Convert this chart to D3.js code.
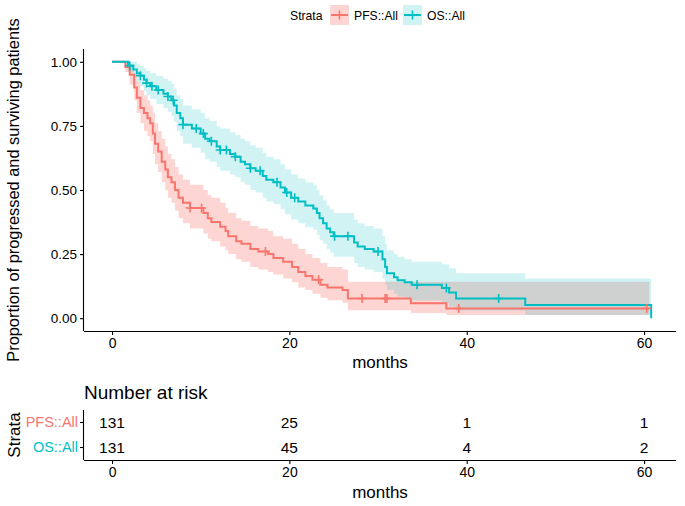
<!DOCTYPE html>
<html><head><meta charset="utf-8">
<script src="https://cdn.jsdelivr.net/npm/d3@7"></script>
<style>body{margin:0;background:#fff}svg{display:block;font-family:"Liberation Sans",Arial,sans-serif}</style>
</head><body><svg id="c" width="685" height="506"></svg>
<script>
// ---- data ----
const strata = ["PFS::All", "OS::All"];
const colors = ["#F8766D", "#00BFC4"];
// PFS step curve
const pfsTime = [0,1.5,2.0,2.5,2.8,3.2,3.6,4.0,4.3,4.6,4.85,5.2,5.6,6.0,6.3,6.7,7.1,7.5,8.0,8.8,10.3,10.8,11.2,12.2,12.8,13.1,14.0,14.6,15.6,16.5,17.6,18.2,19.3,20.3,21.0,21.8,22.6,23.5,24.3,26.0,26.6,33.7,37.7];
const pfsSurv = [1.0,0.98,0.95,0.90,0.86,0.82,0.80,0.78,0.76,0.72,0.68,0.65,0.61,0.58,0.55,0.53,0.50,0.47,0.45,0.43,0.41,0.39,0.375,0.357,0.34,0.32,0.30,0.29,0.27,0.26,0.25,0.235,0.22,0.20,0.18,0.165,0.15,0.13,0.12,0.11,0.077,0.058,0.038];
const pfsLower = [1.0,0.96,0.91,0.85,0.80,0.76,0.73,0.71,0.69,0.64,0.60,0.57,0.53,0.50,0.47,0.45,0.42,0.39,0.37,0.35,0.33,0.31,0.30,0.28,0.265,0.25,0.23,0.22,0.20,0.19,0.18,0.17,0.155,0.14,0.12,0.11,0.095,0.08,0.07,0.06,0.031,0.02,0.012];
const pfsUpper = [1.0,1.0,0.99,0.95,0.92,0.89,0.87,0.85,0.83,0.80,0.76,0.73,0.70,0.67,0.64,0.62,0.59,0.56,0.54,0.52,0.50,0.48,0.47,0.45,0.43,0.41,0.39,0.38,0.36,0.35,0.34,0.32,0.31,0.29,0.27,0.25,0.235,0.215,0.20,0.19,0.142,0.142,0.142];
const pfsEnd = 60.6;
const pfsCensor = [8.8,10.1,17.3,23.3,28.2,30.8,31.0,39.1,60.3];
// OS step curve
const osTime = [0,1.8,2.4,2.8,3.2,3.6,3.9,4.3,5.0,5.8,6.3,6.7,7.0,7.3,7.7,8.0,9.0,10.0,10.5,11.0,11.8,12.2,13.3,13.9,14.5,15.0,15.6,16.2,17.0,17.4,18.2,19.0,19.5,20.2,21.0,21.8,22.7,23.1,23.4,23.8,24.2,24.6,25.0,27.3,27.7,28.5,29.5,30.5,30.8,31.0,31.8,32.2,33.0,33.8,37.2,38.0,38.8,46.6,60.8];
const osSurv = [1.0,0.985,0.97,0.955,0.946,0.93,0.917,0.905,0.89,0.875,0.865,0.85,0.83,0.80,0.78,0.755,0.74,0.72,0.70,0.69,0.67,0.656,0.64,0.63,0.61,0.60,0.585,0.575,0.555,0.54,0.53,0.51,0.49,0.47,0.455,0.44,0.428,0.41,0.39,0.37,0.35,0.335,0.32,0.295,0.28,0.27,0.26,0.23,0.20,0.175,0.16,0.148,0.14,0.13,0.118,0.10,0.077,0.051,0.0];
const osLower = [1.0,0.96,0.94,0.92,0.905,0.885,0.87,0.855,0.835,0.82,0.805,0.79,0.765,0.73,0.71,0.68,0.665,0.645,0.62,0.61,0.59,0.575,0.56,0.55,0.53,0.52,0.50,0.49,0.47,0.455,0.445,0.425,0.405,0.385,0.37,0.355,0.345,0.325,0.305,0.29,0.27,0.255,0.24,0.215,0.20,0.19,0.18,0.155,0.13,0.11,0.095,0.085,0.08,0.07,0.06,0.045,0.03,0.012,0.0];
const osUpper = [1.0,1.0,1.0,0.99,0.985,0.975,0.965,0.955,0.945,0.935,0.925,0.915,0.895,0.87,0.855,0.83,0.815,0.80,0.78,0.77,0.75,0.74,0.725,0.715,0.70,0.69,0.675,0.665,0.645,0.63,0.62,0.60,0.58,0.56,0.545,0.53,0.52,0.50,0.48,0.46,0.44,0.425,0.41,0.385,0.37,0.36,0.35,0.32,0.29,0.265,0.25,0.24,0.23,0.22,0.21,0.195,0.175,0.155,0.0];
const osEnd = 60.8;
const osCensor = [2.0,3.2,3.9,4.5,5.2,6.3,6.9,8.0,9.5,10.3,11.2,12.2,12.9,13.9,15.6,16.7,18.6,19.7,20.6,25.1,26.6,30.0,34.4,37.7,43.6];
// risk table
const riskTimes = [0, 20, 40, 60];
const riskPFS = [131, 25, 1, 1];
const riskOS = [131, 45, 4, 2];
const xTicks = [0, 20, 40, 60];
const yTicks = [0, 0.25, 0.5, 0.75, 1];

// ---- drawing ----
const svg = d3.select("#c");
const x = d3.scaleLinear().domain([-3.16, 63.6]).range([84, 676]);
const y = d3.scaleLinear().domain([-0.05, 1.05]).range([331, 49]);
const F = '"Liberation Sans",Arial,sans-serif';
const bandAlpha = [0.3, 0.18];

function series(time, surv, lo, hi, end) {
  const pts = time.map((t, i) => ({t, s: surv[i], lo: lo[i], hi: hi[i]}));
  pts.push({t: end, s: surv[surv.length - 1], lo: lo[lo.length - 1], hi: hi[hi.length - 1]});
  return pts;
}
const S = [
  {pts: series(pfsTime, pfsSurv, pfsLower, pfsUpper, pfsEnd), time: pfsTime, surv: pfsSurv, cens: pfsCensor, col: colors[0], a: bandAlpha[0]},
  {pts: series(osTime, osSurv, osLower, osUpper, osEnd), time: osTime, surv: osSurv, cens: osCensor, col: colors[1], a: bandAlpha[1]}
];
const area = d3.area().curve(d3.curveStepAfter).x(d => x(d.t)).y0(d => y(d.lo)).y1(d => y(d.hi));
const line = d3.line().curve(d3.curveStepAfter).x(d => x(d.t)).y(d => y(d.s));

S.forEach(s => {
  svg.append("path").attr("d", area(s.pts)).attr("fill", s.col).attr("fill-opacity", s.a);
});
S.forEach(s => {
  svg.append("path").attr("d", line(s.pts)).attr("fill", "none").attr("stroke", s.col).attr("stroke-width", 2);
});
function survAt(time, surv, t) {
  const i = d3.bisectRight(time, t) - 1;
  return surv[Math.max(0, i)];
}
S.forEach(s => {
  s.cens.forEach(t => {
    const cx = x(t), cy = y(survAt(s.time, s.surv, t));
    svg.append("path").attr("d", `M${cx - 4.5},${cy}H${cx + 4.5}M${cx},${cy - 4.5}V${cy + 4.5}`)
      .attr("stroke", s.col).attr("stroke-width", 1.6);
  });
});

// axes
function styleAxis(g) {
  g.selectAll(".domain").attr("stroke", "#000").attr("stroke-width", 1.1);
  g.selectAll(".tick line").attr("stroke", "#000").attr("stroke-width", 1.1);
  g.selectAll("text").attr("fill", "#000").attr("font-family", F);
}
const gx = svg.append("g").attr("transform", "translate(0,331)")
  .call(d3.axisBottom(x).tickValues(xTicks).tickSize(4).tickSizeOuter(0).tickPadding(3));
gx.select(".domain").attr("d", "M84,0.5H676");
gx.selectAll("text").attr("font-size", 14);
styleAxis(gx);
const gy = svg.append("g").attr("transform", "translate(84,0)")
  .call(d3.axisLeft(y).tickValues(yTicks).tickFormat(d3.format(".2f")).tickSize(4).tickSizeOuter(0).tickPadding(3));
gy.select(".domain").attr("d", "M-0.5,49V331");
gy.selectAll("text").attr("font-size", 13.5);
styleAxis(gy);

svg.append("text").attr("x", 380).attr("y", 368).attr("text-anchor", "middle")
  .attr("font-size", 17).attr("font-family", F).text("months");
svg.append("text").attr("transform", "translate(19,190) rotate(-90)").attr("text-anchor", "middle")
  .attr("font-size", 16.4).attr("font-family", F).text("Proportion of progressed and surviving patients");

// legend
const lg = svg.append("g").attr("font-family", F).attr("font-size", 12.2);
lg.append("text").attr("x", 290).attr("y", 20).text("Strata");
const legendX = [330, 403];
strata.forEach((name, i) => {
  const kx = legendX[i];
  lg.append("rect").attr("x", kx).attr("y", 5).attr("width", 19).attr("height", 20)
    .attr("fill", colors[i]).attr("fill-opacity", bandAlpha[i]);
  lg.append("path").attr("d", `M${kx + 1},15H${kx + 18}`).attr("stroke", colors[i]).attr("stroke-width", 2);
  lg.append("path").attr("d", `M${kx + 9.5},10.5V19.5M${kx + 5},15H${kx + 14}`).attr("stroke", colors[i]).attr("stroke-width", 1.6);
  lg.append("text").attr("x", kx + 24).attr("y", 20).text(name);
});

// risk table
svg.append("text").attr("x", 84).attr("y", 399).attr("font-size", 19).attr("font-family", F).text("Number at risk");
const yr = d3.scaleBand().domain(strata).range([410, 460]);
const rows = [riskPFS, riskOS];
strata.forEach((name, i) => {
  rows[i].forEach((v, j) => {
    svg.append("text").attr("x", x(riskTimes[j])).attr("y", yr(name) + yr.bandwidth() / 2).attr("dy", "0.35em")
      .attr("text-anchor", "middle").attr("font-size", 15.5).attr("font-family", F).text(v);
  });
});
const gyr = svg.append("g").attr("transform", "translate(84,0)")
  .call(d3.axisLeft(yr).tickSize(4).tickSizeOuter(0).tickPadding(2));
gyr.select(".domain").attr("d", "M-0.5,410V460");
styleAxis(gyr);
gyr.selectAll(".tick text").attr("font-size", 14.5).attr("fill", (d, i) => colors[i]);
const gxr = svg.append("g").attr("transform", "translate(0,460)")
  .call(d3.axisBottom(x).tickValues(xTicks).tickSize(4).tickSizeOuter(0).tickPadding(3));
gxr.select(".domain").attr("d", "M84,0.5H676");
gxr.selectAll("text").attr("font-size", 14);
styleAxis(gxr);
svg.append("text").attr("x", 380).attr("y", 498).attr("text-anchor", "middle")
  .attr("font-size", 17).attr("font-family", F).text("months");
svg.append("text").attr("transform", "translate(20,435) rotate(-90)").attr("text-anchor", "middle")
  .attr("font-size", 17).attr("font-family", F).text("Strata");
</script></body></html>
